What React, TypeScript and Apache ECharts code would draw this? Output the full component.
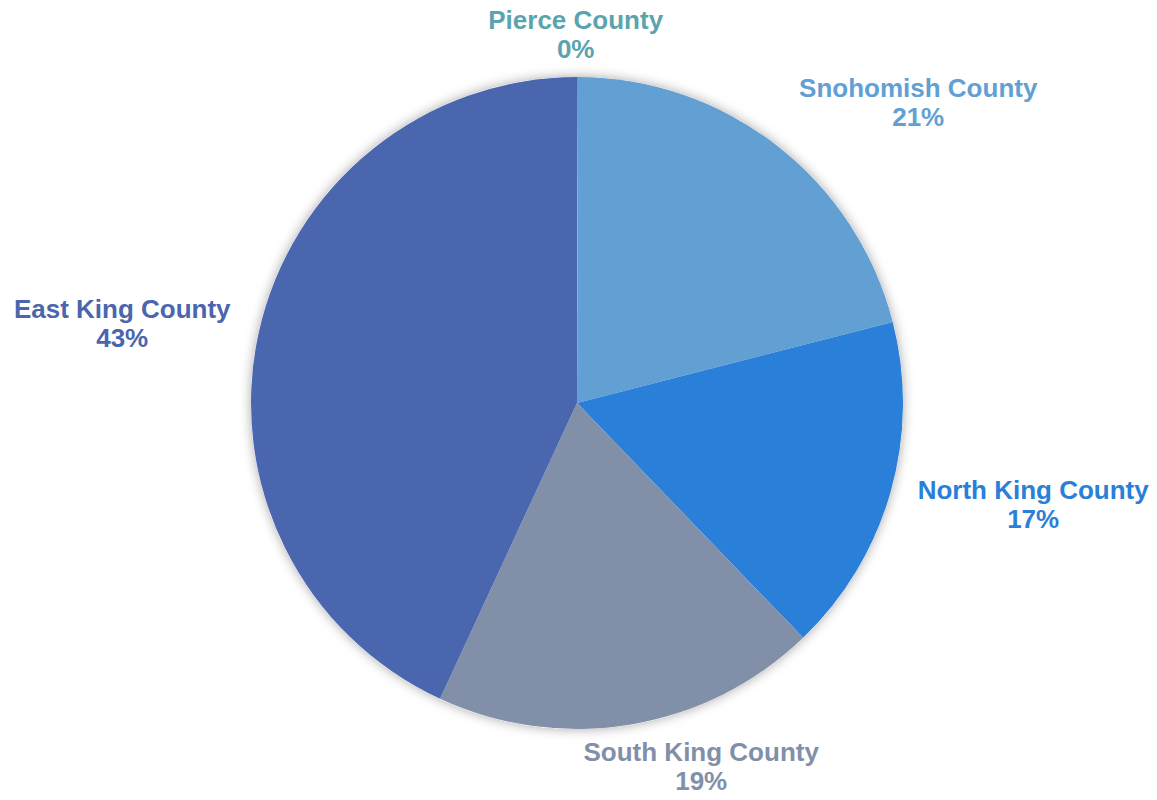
import React, { useEffect, useRef } from "react";
import * as echarts from "echarts";

const categories = ["Pierce County", "Snohomish County", "North King County", "South King County", "East King County"];
const values = [0.05, 20.95, 16.8, 19.1, 43.1];
const colors = ["#5ba4ae", "#629fd3", "#2a7fd8", "#8190a8", "#4a66ae"];
// label nudges (px) from the geometric outside placement
const labelNudge: [number, number][] = [[-2, 2], [58, -8], [16, 0], [48, -2], [-15, 0]];

const CENTER: [number, number] = [577, 403];
const RADIUS = 326;
const GAP = 16;

export default function App() {
  const ref = useRef<HTMLDivElement>(null);
  useEffect(() => {
    document.body.style.margin = "0";
    const chart = echarts.init(ref.current!, undefined, { renderer: "svg" });
    const total = values.reduce((a, b) => a + b, 0);
    const cum: number[] = [];
    let acc = 0;
    values.forEach((v) => {
      cum.push(acc + v / 2);
      acc += v;
    });
    chart.setOption({
      animation: false,
      backgroundColor: "#ffffff",
      series: [
        {
          type: "pie",
          silent: true,
          center: CENTER,
          radius: RADIUS,
          label: { show: false },
          labelLine: { show: false },
          itemStyle: { color: "#ffffff", shadowBlur: 12, shadowColor: "rgba(0,0,0,0.35)" },
          data: [{ value: 1, name: "" }],
        },
        {
          type: "pie",
          center: CENTER,
          radius: RADIUS,
          startAngle: 90,
          clockwise: true,
          avoidLabelOverlap: false,
          data: categories.map((c, i) => ({
            name: c,
            value: values[i],
            itemStyle: { color: colors[i] },
            label: { color: colors[i] },
          })),
          label: {
            show: true,
            position: "outside",
            formatter: (p: any) => `${p.name}\n${Math.round(p.percent)}%`,
            fontFamily: "'Liberation Sans', Arial, sans-serif",
            fontWeight: "bold",
            fontSize: 26,
            lineHeight: 29,
          },
          labelLine: { show: false },
          labelLayout: (params: any) => {
            const i = params.dataIndex;
            const th = (2 * Math.PI * cum[i]) / total;
            const ux = Math.sin(th);
            const uy = -Math.cos(th);
            const w = params.labelRect.width;
            const h = params.labelRect.height;
            const x = CENTER[0] + ux * (RADIUS + GAP) + (ux * w) / 2 + labelNudge[i][0];
            const y = CENTER[1] + uy * (RADIUS + GAP) + (uy * h) / 2 + labelNudge[i][1];
            return { x, y, align: "center", verticalAlign: "middle" };
          },
        },
      ],
    });
    return () => chart.dispose();
  }, []);
  return <div ref={ref} style={{ width: 1157, height: 800 }} />;
}
